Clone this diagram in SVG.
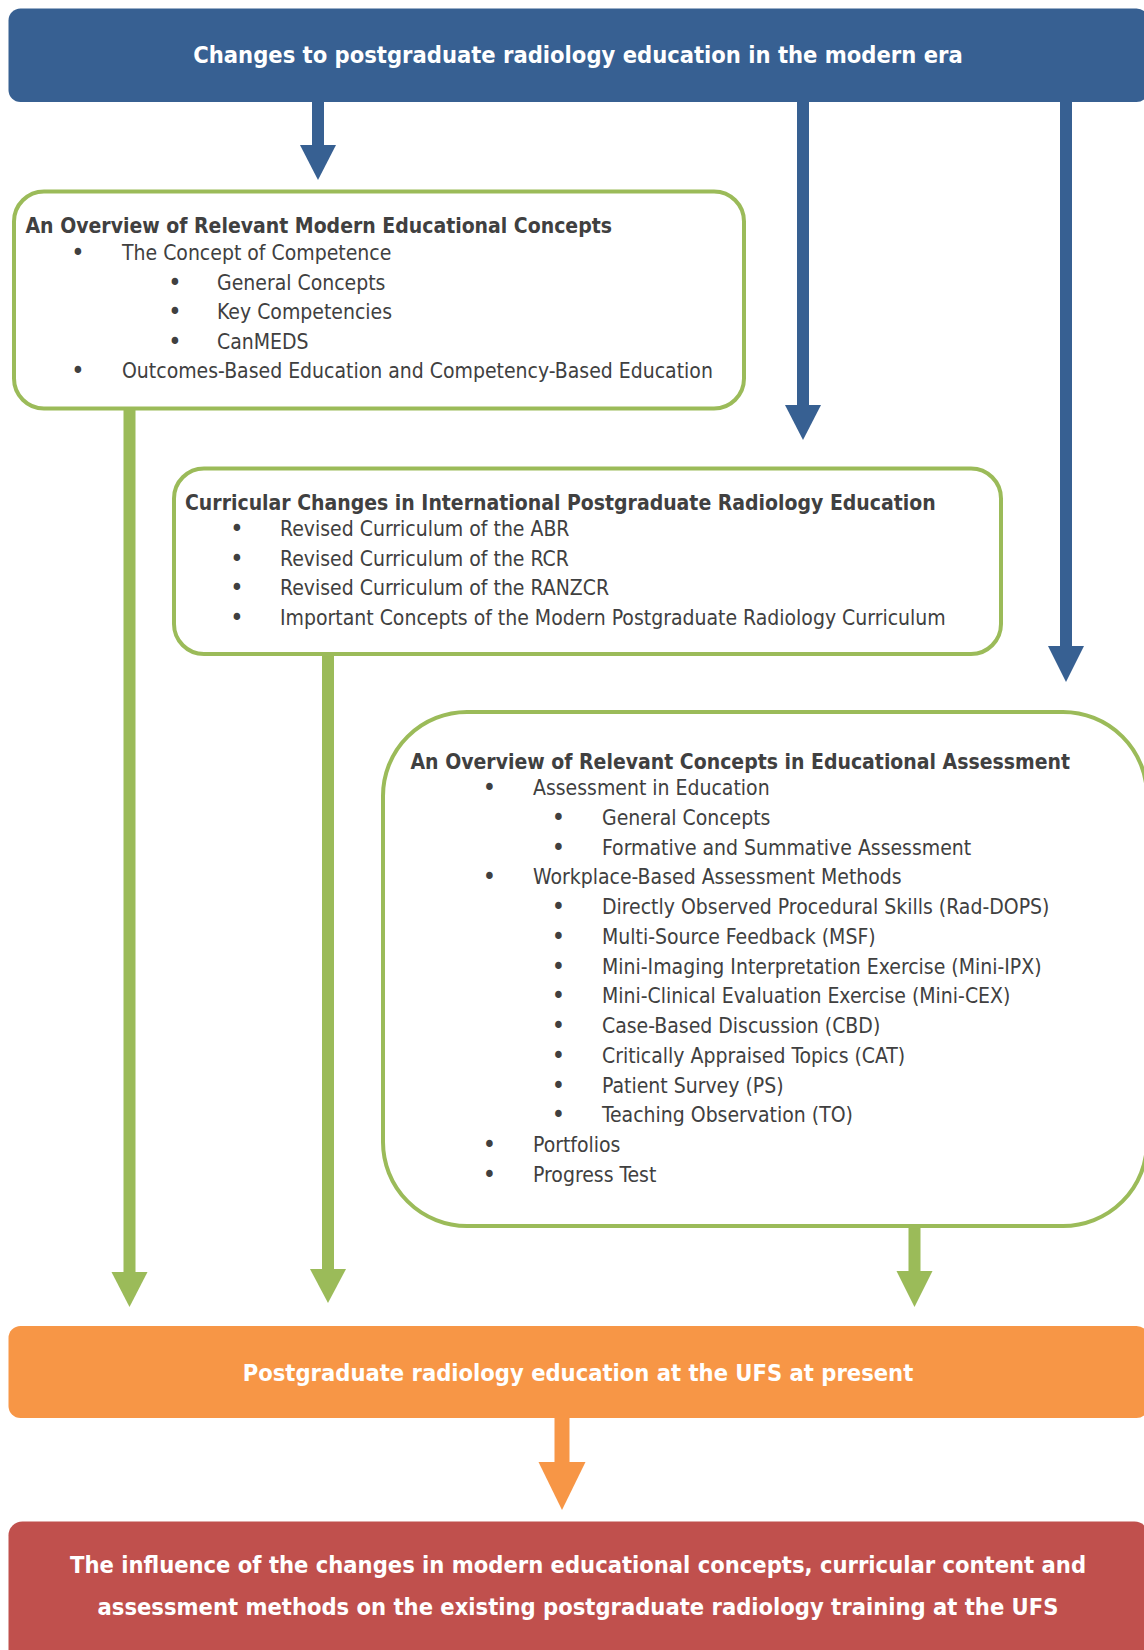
<svg xmlns="http://www.w3.org/2000/svg" width="1144" height="1650" viewBox="0 0 1144 1650">
<style>
.t{font-family:'DejaVu Sans Condensed','DejaVu Sans',sans-serif;font-stretch:condensed;font-size:21px;fill:#404040}
.h{font-family:'DejaVu Sans Condensed','DejaVu Sans',sans-serif;font-stretch:condensed;font-size:21px;font-weight:bold;fill:#404040}
.w{font-family:'DejaVu Sans Condensed','DejaVu Sans',sans-serif;font-stretch:condensed;font-size:23.5px;font-weight:bold;fill:#ffffff}
.b{text-anchor:middle;font-size:25px}
.gb{fill:#ffffff;stroke:#9BBB59;stroke-width:4}
</style>
<rect width="1144" height="1650" fill="#ffffff"/>
<g id="connectors">
<g fill="#376092" stroke="none">
<rect x="312" y="100" width="12" height="47"/><polygon points="300,145 336,145 318,180"/>
<rect x="797" y="100" width="12" height="307"/><polygon points="785,405 821,405 803,440"/>
<rect x="1060" y="100" width="12" height="548"/><polygon points="1048,646 1084,646 1066,682"/>
</g>
<g fill="#9BBB59" stroke="none">
<rect x="123.5" y="407" width="12" height="867"/><polygon points="111.5,1272 147.5,1272 129.5,1307"/>
<rect x="322" y="652" width="12" height="619"/><polygon points="310,1269 346,1269 328,1303"/>
<rect x="908.5" y="1224" width="12" height="49"/><polygon points="896.5,1271 932.5,1271 914.5,1307"/>
</g>
<g fill="#F79646" stroke="none">
<rect x="554.5" y="1416" width="15" height="48"/><polygon points="538.5,1462 585.5,1462 562,1510"/>
</g>
</g>
<g id="top">
<rect x="8.5" y="8.5" width="1140" height="93.5" rx="12" fill="#376092"/>
<text class="w" x="578" y="63" text-anchor="middle">Changes to postgraduate radiology education in the modern era</text>
</g>
<g id="box1">
<rect class="gb" x="14" y="191.5" width="730" height="217" rx="30"/>
<text class="h" x="25.5" y="233">An Overview of Relevant Modern Educational Concepts</text>
<text class="t b" x="78" y="261">•</text><text class="t" x="122" y="260">The Concept of Competence</text>
<text class="t b" x="175" y="290.5">•</text><text class="t" x="217" y="289.5">General Concepts</text>
<text class="t b" x="175" y="320">•</text><text class="t" x="217" y="319">Key Competencies</text>
<text class="t b" x="175" y="349.5">•</text><text class="t" x="217" y="348.5">CanMEDS</text>
<text class="t b" x="78" y="379">•</text><text class="t" x="122" y="378">Outcomes-Based Education and Competency-Based Education</text>
</g>
<g id="box2">
<rect class="gb" x="174" y="468.5" width="827" height="185.5" rx="30"/>
<text class="h" x="185" y="509.5">Curricular Changes in International Postgraduate Radiology Education</text>
<text class="t b" x="237" y="537">•</text><text class="t" x="280" y="536">Revised Curriculum of the ABR</text>
<text class="t b" x="237" y="566.5">•</text><text class="t" x="280" y="565.5">Revised Curriculum of the RCR</text>
<text class="t b" x="237" y="596">•</text><text class="t" x="280" y="595">Revised Curriculum of the RANZCR</text>
<text class="t b" x="237" y="625.5">•</text><text class="t" x="280" y="624.5">Important Concepts of the Modern Postgraduate Radiology Curriculum</text>
</g>
<g id="box3">
<rect class="gb" x="383" y="712" width="764" height="514" rx="84"/>
<text class="h" x="410.5" y="768.5">An Overview of Relevant Concepts in Educational Assessment</text>
<text class="t b" x="489.5" y="796">•</text><text class="t" x="533" y="795">Assessment in Education</text>
<text class="t b" x="558.5" y="825.8">•</text><text class="t" x="602" y="824.8">General Concepts</text>
<text class="t b" x="558.5" y="855.5">•</text><text class="t" x="602" y="854.5">Formative and Summative Assessment</text>
<text class="t b" x="489.5" y="885.3">•</text><text class="t" x="533" y="884.3">Workplace-Based Assessment Methods</text>
<text class="t b" x="558.5" y="915">•</text><text class="t" x="602" y="914">Directly Observed Procedural Skills (Rad-DOPS)</text>
<text class="t b" x="558.5" y="944.8">•</text><text class="t" x="602" y="943.8">Multi-Source Feedback (MSF)</text>
<text class="t b" x="558.5" y="974.6">•</text><text class="t" x="602" y="973.6">Mini-Imaging Interpretation Exercise (Mini-IPX)</text>
<text class="t b" x="558.5" y="1004.3">•</text><text class="t" x="602" y="1003.3">Mini-Clinical Evaluation Exercise (Mini-CEX)</text>
<text class="t b" x="558.5" y="1034">•</text><text class="t" x="602" y="1033">Case-Based Discussion (CBD)</text>
<text class="t b" x="558.5" y="1063.8">•</text><text class="t" x="602" y="1062.8">Critically Appraised Topics (CAT)</text>
<text class="t b" x="558.5" y="1093.6">•</text><text class="t" x="602" y="1092.6">Patient Survey (PS)</text>
<text class="t b" x="558.5" y="1123.3">•</text><text class="t" x="602" y="1122.3">Teaching Observation (TO)</text>
<text class="t b" x="489.5" y="1153">•</text><text class="t" x="533" y="1152">Portfolios</text>
<text class="t b" x="489.5" y="1182.8">•</text><text class="t" x="533" y="1181.8">Progress Test</text>
</g>
<g id="ufs">
<rect x="8.5" y="1326" width="1140" height="92" rx="12" fill="#F79646"/>
<text class="w" x="578" y="1381" text-anchor="middle">Postgraduate radiology education at the UFS at present</text>
</g>
<g id="influence">
<rect x="8.5" y="1521.5" width="1140" height="170" rx="14" fill="#C0504D"/>
<text class="w" x="578" y="1573" text-anchor="middle">The influence of the changes in modern educational concepts, curricular content and</text>
<text class="w" x="578" y="1615" text-anchor="middle">assessment methods on the existing postgraduate radiology training at the UFS</text>
</g>
</svg>
